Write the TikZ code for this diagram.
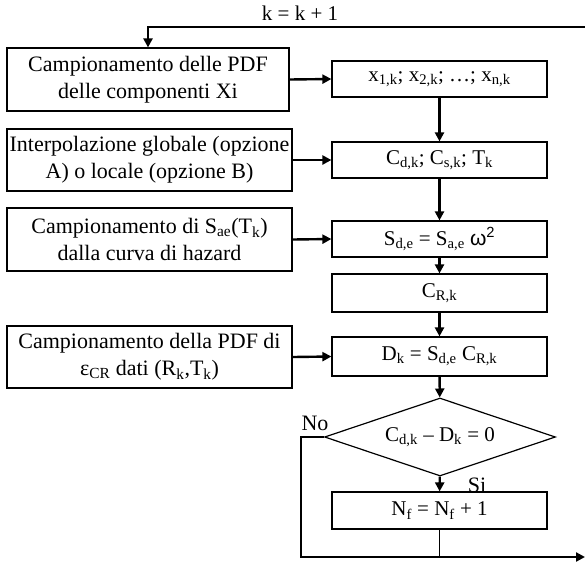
\documentclass[tikz,border=0pt]{standalone}
\usepackage{fontspec}
\setmainfont{Liberation Serif}
\setsansfont{Liberation Sans}
\usetikzlibrary{shapes.geometric,arrows.meta}

\begin{document}
\begin{tikzpicture}[x=1pt,y=-1pt,font=\fontsize{21}{27}\selectfont,
    box/.style={draw,line width=1.2pt,inner sep=0pt,align=center},
    inbox/.style={box,minimum width=285pt,font=\fontsize{22}{27}\selectfont},
    flow/.style={line width=2.4pt,-{Triangle[length=9pt,width=9pt]}}]
    \useasboundingbox (0,0) rectangle (585,563);

    % left column
    \node[inbox,minimum width=282pt,minimum height=63pt] (pdf) at (148,79.5) {Campionamento delle PDF\\delle componenti Xi};
    \node[inbox,minimum height=62pt] (interp) at (149.5,160) {Interpolazione globale (opzione\\A) o locale (opzione B)};
    \node[inbox,minimum height=63pt] (hazard) at (149.5,239.5) {Campionamento di S\textsubscript{ae}(T\textsubscript{k})\\dalla curva di hazard};
    \node[inbox,minimum height=62pt] (epscr) at (149.5,357) {Campionamento della PDF di\\ε\textsubscript{CR} dati (R\textsubscript{k},T\textsubscript{k})};

    % main column
    \node[box,minimum width=215pt,minimum height=36pt] (xk) at (439.5,79) {x\textsubscript{1,k}; x\textsubscript{2,k}; …; x\textsubscript{n,k}};
    \node[box,minimum width=215pt,minimum height=36pt] (cdk) at (439.5,160) {C\textsubscript{d,k}; C\textsubscript{s,k}; T\textsubscript{k}};
    \node[box,minimum width=215pt,minimum height=36pt] (sde) at (439.5,239) {S\textsubscript{d,e} = S\textsubscript{a,e} {\sffamily ω\textsuperscript{2}}};
    \node[box,minimum width=215pt,minimum height=38pt] (crk) at (439.5,293) {C\textsubscript{R,k}};
    \node[box,minimum width=215pt,minimum height=39pt] (dk) at (439.5,356.5) {D\textsubscript{k} = S\textsubscript{d,e} C\textsubscript{R,k}};
    \node[draw,diamond,aspect=2.96,line width=1.2pt,inner sep=0pt,minimum width=231pt,minimum height=78pt] (test) at (440,437) {C\textsubscript{d,k} – D\textsubscript{k} = 0};
    \node[box,minimum width=215pt,minimum height=37pt] (nf) at (439.5,510.5) {N\textsubscript{f} = N\textsubscript{f} + 1};

    \node (incr) at (300,13) {k = k + 1};
    \node[font=\fontsize{22}{27}\selectfont] (no) at (315,423) {No};
    \node[font=\fontsize{22}{27}\selectfont] (si) at (477,485) {Si};

    \coordinate (topend) at (585,27);
    \coordinate (loopc) at (301,557);
    \coordinate (outend) at (585,557);

    \draw[flow] (topend) -- (pdf.north |- topend) -- (pdf.north);
    \draw[flow] (pdf.east) -- (xk.west);
    \draw[flow] (interp.east) -- (cdk.west);
    \draw[flow] (hazard.east) -- (sde.west);
    \draw[flow] (epscr.east) -- (dk.west);

    \draw[flow] (xk) -- (cdk);
    \draw[flow] (cdk) -- (sde);
    \draw[flow] (sde) -- (crk);
    \draw[flow] (crk) -- (dk);
    \draw[flow] (dk) -- (test);
    \draw[flow] (test) -- (nf);

    \draw[flow] (test.west) -- (test.west -| loopc) -- (loopc) -- (outend);
    \draw[line width=1.2pt] (nf.south) -- (nf.south |- loopc);
\end{tikzpicture}
\end{document}
